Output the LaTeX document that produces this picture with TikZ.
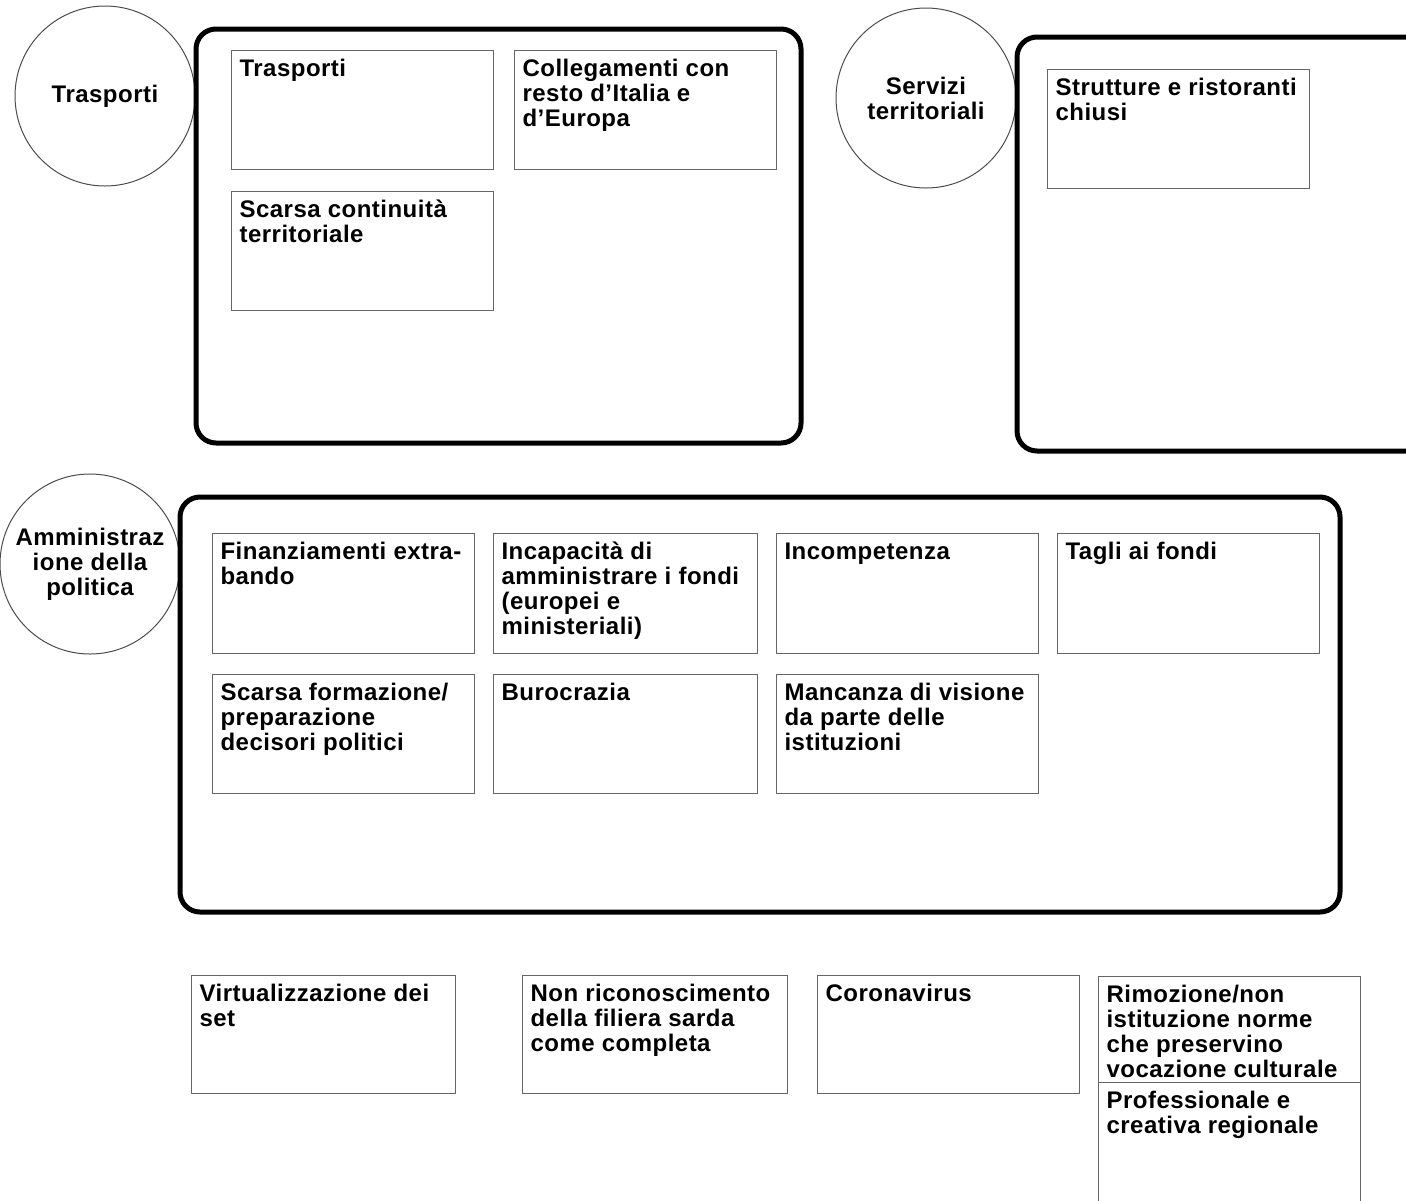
\documentclass[tikz,border=0pt]{standalone}
\usepackage{fontspec}
\setmainfont{Liberation Sans}[LetterSpace=2]
\tikzset{
  lbl/.style={font=\fontsize{12}{12.5}\selectfont\bfseries},
  ibox/.style={lbl, draw=black!60, line width=0.6pt, anchor=north west, inner xsep=4pt, inner ysep=4pt, align=left},
  group/.style={draw=black, line width=2.5pt, rounded corners=10pt},
  topic/.style={lbl, draw=black!70, line width=0.5pt, circle, minimum size=90pt, inner sep=0pt, align=center, fill=white}
}
\newcommand\ib[6]{\node[ibox] (#1) at (#2,#3) {\parbox[t][\dimexpr #5-2pt\relax][t]{\dimexpr #4pt/2-8pt\relax}{\raggedright\vrule width 0pt height 9pt #6}};}
\begin{document}
\begin{tikzpicture}[x=0.5pt,y=-0.5pt]
\useasboundingbox (0,0) rectangle (1406,1200);
\clip (0,0) rectangle (1406,1200);
\fill[white] (0,0) rectangle (1406,1200);
% circles
\node[topic] (cTr) at (105,96) {Trasporti};
\node[topic] (cSe) at (926,98) {Servizi\\territoriali};
\node[topic] (cAm) at (90,564) {Amministraz\\ione della\\politica};
% group frames
\draw[group] (196,29) rectangle (801,443);
\draw[group] (1017,37) rectangle (1440,451);
\draw[group] (180,497) rectangle (1340,912);
% group 1
\ib{t1}{231}{50}{262}{53.5pt}{Trasporti}
\ib{t2}{514}{50}{262}{53.5pt}{Collegamenti con\\resto d’Italia e\\d’Europa}
\ib{t3}{231}{191}{262}{53.5pt}{Scarsa continuità\\territoriale}
% group 2
\ib{s1}{1047}{69}{262}{53.5pt}{Strutture e ristoranti\\chiusi}
% group 3
\ib{a1}{212}{533}{262}{54pt}{Finanziamenti extra-\\bando}
\ib{a2}{493}{533}{264}{54pt}{Incapacità di\\amministrare i fondi\\(europei e\\ministeriali)}
\ib{a3}{776}{533}{262}{54pt}{Incompetenza}
\ib{a4}{1057}{533}{262}{54pt}{Tagli ai fondi}
\ib{a5}{212}{674}{262}{53.5pt}{Scarsa formazione/\\preparazione\\decisori politici}
\ib{a6}{493}{674}{264}{53.5pt}{Burocrazia}
\ib{a7}{776}{674}{262}{53.5pt}{Mancanza di visione\\da parte delle\\istituzioni}
% bottom row
\ib{b1}{191}{975}{264}{53pt}{Virtualizzazione dei\\set}
\ib{b2}{522}{975}{265}{53pt}{Non riconoscimento\\della filiera sarda\\come completa}
\ib{b3}{817}{975}{262}{53pt}{Coronavirus}
\ib{b4}{1098}{976}{262}{47pt}{Rimozione/non\\istituzione norme\\che preservino\\vocazione culturale}
\ib{b5}{1098}{1082}{262}{60pt}{Professionale e\\creativa regionale}
\end{tikzpicture}
\end{document}
